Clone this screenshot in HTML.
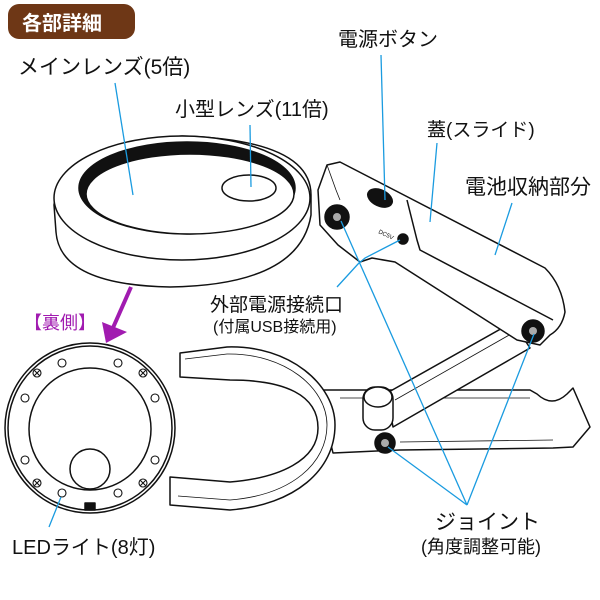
<!DOCTYPE html>
<html><head><meta charset="utf-8"><style>
body{margin:0;background:#fff}
svg{display:block}
text{font-family:"Liberation Sans","Noto Sans CJK JP",sans-serif;fill:#111}
</style></head><body>
<svg width="600" height="600" viewBox="0 0 600 600" xmlns="http://www.w3.org/2000/svg">
<rect x="8" y="4" width="127" height="35" rx="11" fill="#6e3716"/>
<text x="22" y="30" font-size="20" style="fill:#fff;font-weight:bold">各部詳細</text>

<g stroke="#111" stroke-width="1.5" fill="#fff" stroke-linejoin="round">
<!-- clamp bar -->
<path d="M318 390 L530 390 L537 394 Q552 408 567 394 L573 388 L590 427 L573 447 L553 448 L400 450 L333 453 Z"/>
<path d="M340 398 L530 398 M400 442 L553 440" fill="none" stroke-width="0.8"/>
<!-- U -->
<path d="M180 353 L227 347 C290 345 335 385 335 425 C335 470 295 505 230 510 L170 505 L170 477 L230 482 C280 478 318 460 318 428 C318 395 285 380 230 380 L180 377 Z"/>
<path d="M185 359 L227 354 C285 353 327 388 327 425 C327 463 292 495 230 500 L178 496" fill="none" stroke-width="0.8"/>
<!-- lower arm -->
<path d="M387 393 L513 322 L530 348 L393 427 Z"/>
<path d="M395 400 L518 330" fill="none" stroke-width="0.8"/>
<!-- hinge -->
<rect x="363" y="387" width="30" height="43" rx="12"/>
<ellipse cx="378" cy="397" rx="14" ry="10"/>
<!-- arm / battery -->
<path d="M327 165 L340 162 L545 268 Q562 285 565 312 Q562 328 550 335 L540 345 L517 340 L395 262 L372 258 L360 262 L338 245 L320 225 L318 190 Z"/>
<path d="M407 200 L417 240 L420 250 L553 320" fill="none"/>
<path d="M327 165 L336 190 L340 200" fill="none" stroke-width="0.8"/>
<!-- main lens -->
<path d="M54 205 Q60 145 182 136 Q311 140 311 195 L311 215 Q300 285 170 287 Q60 285 56 232 Z"/>
<ellipse cx="182" cy="198" rx="128" ry="62"/>
<ellipse cx="187" cy="188" rx="108" ry="46" fill="#111"/>
<ellipse cx="190" cy="194" rx="104" ry="40"/>
<ellipse cx="249" cy="188" rx="27" ry="13"/>
<ellipse cx="380" cy="198" rx="13" ry="8" fill="#111" transform="rotate(25 380 198)"/>
<circle cx="403" cy="239" r="5" fill="#111"/>
<!-- joints -->
<circle cx="337" cy="217" r="12" fill="#111"/><circle cx="337" cy="217" r="4" fill="#aaa" stroke="none"/>
<circle cx="533" cy="331" r="11" fill="#111"/><circle cx="533" cy="331" r="4" fill="#aaa" stroke="none"/>
<circle cx="385" cy="443" r="10" fill="#111"/><circle cx="385" cy="443" r="4" fill="#aaa" stroke="none"/>
<!-- back view -->
<ellipse cx="90" cy="428" rx="85" ry="85"/>
<ellipse cx="90" cy="428" rx="82" ry="82"/>
<ellipse cx="90" cy="429" rx="61" ry="61"/>
<ellipse cx="90" cy="469" rx="20" ry="20"/>
<rect x="85" y="503" width="10" height="7" fill="#111"/>
</g>
<g stroke="#111" stroke-width="1.1" fill="#fff">
<circle cx="62" cy="363" r="4"/><circle cx="118" cy="363" r="4"/>
<circle cx="25" cy="398" r="4"/><circle cx="155" cy="398" r="4"/>
<circle cx="25" cy="460" r="4"/><circle cx="155" cy="460" r="4"/>
<circle cx="62" cy="493" r="4"/><circle cx="118" cy="493" r="4"/>
<circle cx="37" cy="373" r="4"/><circle cx="143" cy="373" r="4"/>
<circle cx="37" cy="483" r="4"/><circle cx="143" cy="483" r="4"/>
<path d="M34 370l6 6M40 370l-6 6M140 370l6 6M146 370l-6 6M34 480l6 6M40 480l-6 6M140 480l6 6M146 480l-6 6"/>
</g>
<text x="378" y="233" font-size="6" transform="rotate(25 378 233)">DC5V</text>

<!-- magenta arrow -->
<line x1="131" y1="287" x2="112" y2="330" stroke="#a11bb0" stroke-width="4"/>
<path d="M106 343 L102 322 L127 332 Z" fill="#a11bb0"/>

<!-- blue leaders -->
<g stroke="#1a9be0" stroke-width="1.3" fill="none">
<line x1="115" y1="83" x2="133" y2="195"/>
<line x1="250" y1="125" x2="251" y2="187"/>
<line x1="381" y1="55" x2="385" y2="200"/>
<line x1="437" y1="143" x2="430" y2="222"/>
<line x1="512" y1="203" x2="495" y2="255"/>
<polyline points="337,287 358,264 365,258 400,240"/>
<line x1="341" y1="221" x2="467" y2="505"/>
<line x1="534" y1="334" x2="467" y2="505"/>
<line x1="388" y1="447" x2="467" y2="505"/>
<line x1="61" y1="497" x2="49" y2="527"/>
</g>

<text x="18" y="74" font-size="21">メインレンズ(5倍)</text>
<text x="175" y="116" font-size="20">小型レンズ(11倍)</text>
<text x="338" y="46" font-size="20">電源ボタン</text>
<text x="427" y="136" font-size="19">蓋(スライド)</text>
<text x="465" y="194" font-size="21">電池収納部分</text>
<text x="210" y="311" font-size="19">外部電源接続口</text>
<text x="213" y="332" font-size="16">(付属USB接続用)</text>
<text x="24" y="329" font-size="18" style="fill:#a11bb0">【裏側】</text>
<text x="12" y="554" font-size="20">LEDライト(8灯)</text>
<text x="435" y="529" font-size="21">ジョイント</text>
<text x="421" y="553" font-size="18">(角度調整可能)</text>
</svg>
</body></html>
